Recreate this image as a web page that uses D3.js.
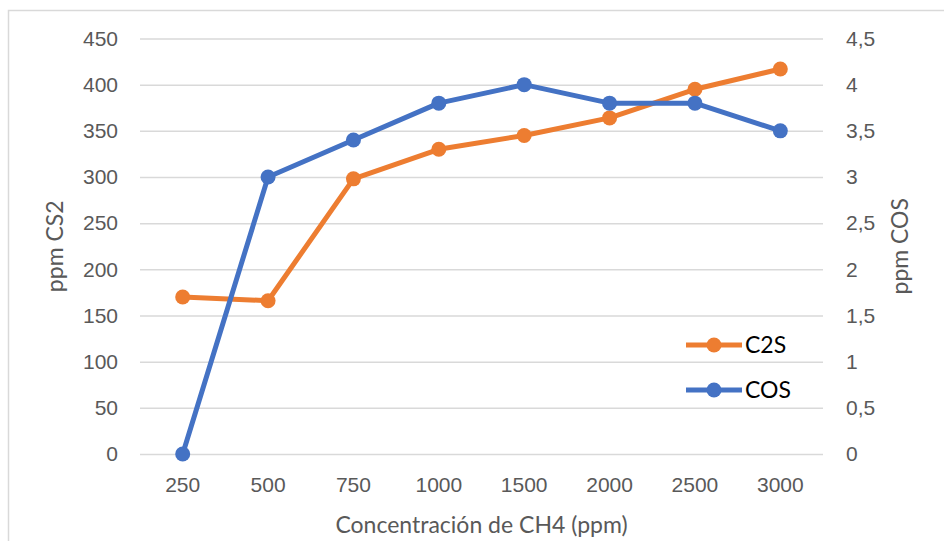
<!DOCTYPE html>
<html>
<head>
<meta charset="utf-8">
<script src="https://cdn.jsdelivr.net/npm/d3@7"></script>
<style>
  body { margin: 0; background: #fff; }
  svg { display: block; font-family: Lato, "Open Sans", sans-serif; }
  .tick-label { fill: #595959; font-size: 21px; }
  .axis-title { fill: #595959; font-size: 23px; }
  .legend-text { fill: #000; font-size: 23px; }
</style>
</head>
<body>
<svg id="chart" width="944" height="541"></svg>
<script>

////////////////////////// DATA //////////////////////////

const categories = ['250', '500', '750', '1000', '1500', '2000', '2500', '3000']
const c2sValues = [170, 166, 298, 330, 345, 364, 395, 417]
const cosValues = [0, 3, 3.4, 3.8, 4, 3.8, 3.8, 3.5]
const leftTicks = [0, 50, 100, 150, 200, 250, 300, 350, 400, 450]
const rightTicks = [0, 0.5, 1, 1.5, 2, 2.5, 3, 3.5, 4, 4.5]

const series = [
  { name: 'C2S', values: c2sValues, axis: 'left', color: '#ED7D31' },
  { name: 'COS', values: cosValues, axis: 'right', color: '#4472C4' }
]

////////////////////////// SETUP //////////////////////////

const svg = d3.select('#chart')
const margin = { left: 140, right: 121, top: 38.5, bottom: 87 }
const width = 944 - margin.left - margin.right
const height = 541 - margin.top - margin.bottom

// outer frame of the chart area
svg.append('rect')
  .attr('x', 8.5).attr('y', 10.5)
  .attr('width', 944).attr('height', 560)
  .attr('fill', 'none')
  .attr('stroke', '#d9d9d9')
  .attr('stroke-width', 1.5)

const g = svg.append('g').attr('transform', `translate(${margin.left},${margin.top})`)

const xScale = d3.scaleBand().domain(categories).range([0, width])
const yLeft = d3.scaleLinear().domain([0, 450]).range([height, 0])
const yRight = d3.scaleLinear().domain([0, 4.5]).range([height, 0])
const commaFormat = (d) => d3.format('~g')(d).replace('.', ',')

// grid
g.append('g')
  .call(d3.axisLeft(yLeft).tickValues(leftTicks).tickSize(-width).tickFormat(''))
  .call((s) => s.select('.domain').remove())
  .selectAll('line')
    .attr('stroke', '#d9d9d9')
    .attr('stroke-width', 1.5)

// left axis
g.append('g')
  .call(d3.axisLeft(yLeft).tickValues(leftTicks).tickSize(0).tickPadding(22))
  .call((s) => s.select('.domain').remove())
  .selectAll('text')
    .attr('class', 'tick-label')
    .attr('font-family', null).attr('font-size', null).attr('fill', null)

// right axis
g.append('g')
  .attr('transform', `translate(${width},0)`)
  .call(d3.axisRight(yRight).tickValues(rightTicks).tickSize(0).tickPadding(23).tickFormat(commaFormat))
  .call((s) => s.select('.domain').remove())
  .selectAll('text')
    .attr('class', 'tick-label')
    .attr('font-family', null).attr('font-size', null).attr('fill', null)

// x axis
g.append('g')
  .attr('transform', `translate(0,${height})`)
  .call(d3.axisBottom(xScale).tickSize(0).tickPadding(23))
  .call((s) => s.select('.domain').remove())
  .selectAll('text')
    .attr('class', 'tick-label')
    .attr('font-family', null).attr('font-size', null).attr('fill', null)

// axis titles
svg.append('text')
  .attr('class', 'axis-title')
  .attr('text-anchor', 'middle')
  .attr('x', margin.left + width / 2)
  .attr('y', 533)
  .text('Concentración de CH4 (ppm)')

svg.append('text')
  .attr('class', 'axis-title')
  .attr('text-anchor', 'middle')
  .attr('transform', `translate(63,${margin.top + height / 2}) rotate(-90)`)
  .text('ppm CS2')

svg.append('text')
  .attr('class', 'axis-title')
  .attr('text-anchor', 'middle')
  .attr('transform', `translate(908,${margin.top + height / 2}) rotate(-90)`)
  .text('ppm COS')

////////////////////////// LINES //////////////////////////

const xPos = (i) => xScale(categories[i]) + xScale.bandwidth() / 2

series.forEach((s) => {
  const yScale = s.axis === 'left' ? yLeft : yRight
  const line = d3.line().x((d, i) => xPos(i)).y((d) => yScale(d))

  g.append('path')
    .datum(s.values)
    .attr('d', line)
    .attr('fill', 'none')
    .attr('stroke', s.color)
    .attr('stroke-width', 5)
    .attr('stroke-linejoin', 'round')

  g.selectAll(null)
    .data(s.values)
    .enter()
    .append('circle')
    .attr('cx', (d, i) => xPos(i))
    .attr('cy', (d) => yScale(d))
    .attr('r', 7.5)
    .attr('fill', s.color)
})

////////////////////////// LEGEND //////////////////////////

const legend = svg.append('g').attr('transform', 'translate(686,345)')
const legendItems = legend.selectAll('g')
  .data(series)
  .enter()
  .append('g')
  .attr('transform', (d, i) => `translate(0,${i * 45})`)

legendItems.append('line')
  .attr('x1', 0).attr('x2', 56)
  .attr('stroke', (d) => d.color)
  .attr('stroke-width', 5)

legendItems.append('circle')
  .attr('cx', 28)
  .attr('r', 7.5)
  .attr('fill', (d) => d.color)

legendItems.append('text')
  .attr('class', 'legend-text')
  .attr('x', 59)
  .attr('dy', '0.36em')
  .text((d) => d.name)

</script>
</body>
</html>
